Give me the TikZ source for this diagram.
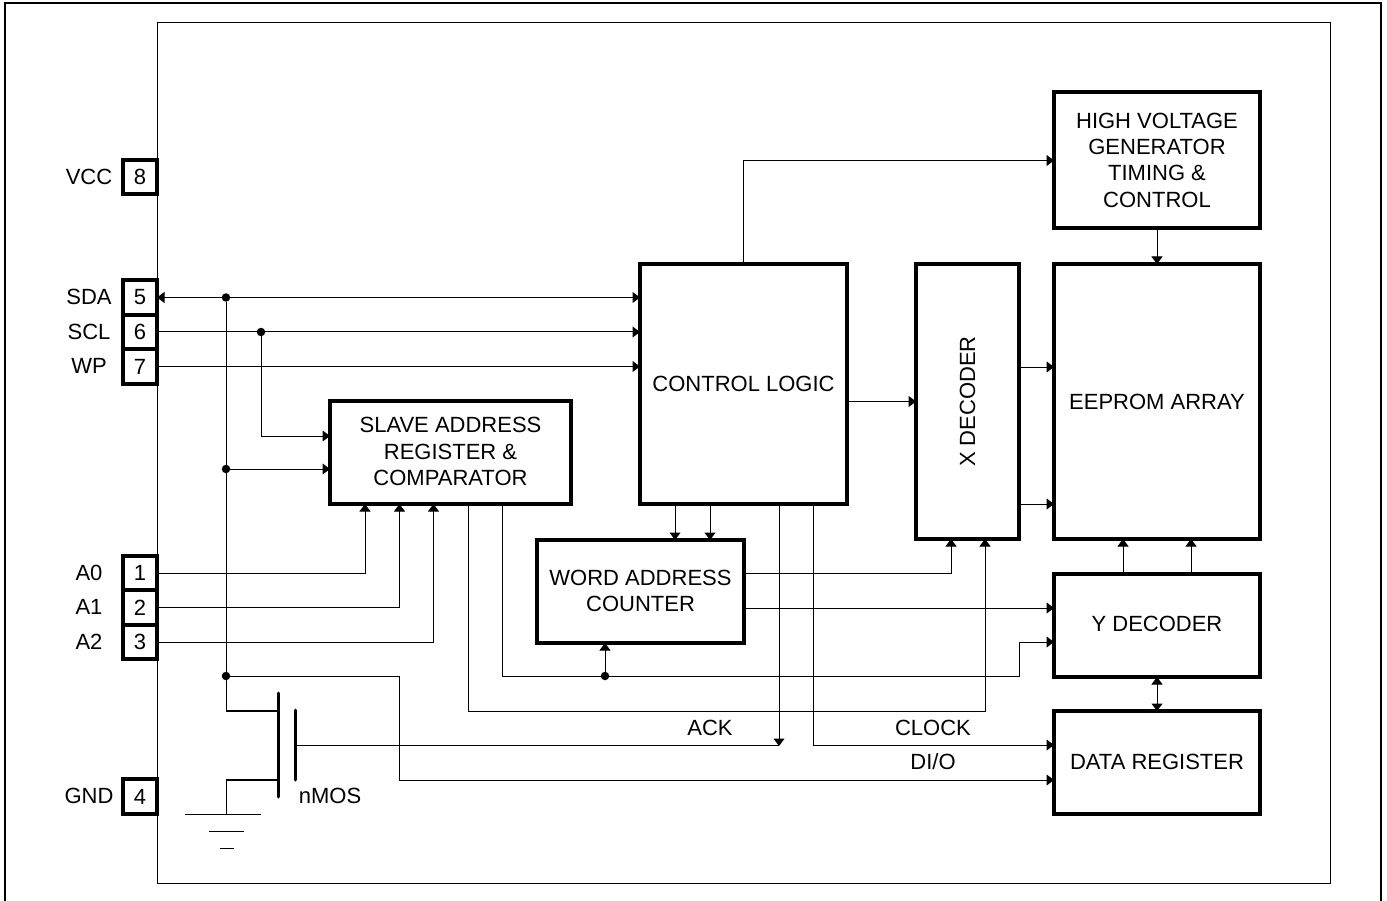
\documentclass[tikz,border=0pt]{standalone}
\usepackage{fontspec}
\setmainfont{Liberation Sans}
\usetikzlibrary{arrows.meta}
\tikzset{
  x=1pt,y=-1pt,
  box/.style={draw=black,fill=white,line width=3.8pt,align=center,inner sep=0pt,outer sep=0pt,
    font=\fontsize{22}{26.3}\selectfont},
  pinbox/.style={draw=black,fill=white,line width=3.8pt,inner sep=0pt,outer sep=0pt,
    minimum width=34pt,minimum height=34.5pt,font=\fontsize{22}{26}\selectfont},
  lab/.style={inner sep=0pt,font=\fontsize{22}{26}\selectfont},
  wire/.style={line width=1pt,draw=black},
  arr/.style={wire,-{Triangle[length=7.5pt,width=11pt]}},
  biarr/.style={wire,{Triangle[length=7.5pt,width=11pt]}-{Triangle[length=7.5pt,width=11pt]}},
  dot/.style={circle,fill=black,draw=none,inner sep=0pt,minimum size=8.5pt},
  heavy/.style={line width=2.6pt,draw=black},
  mos/.style={line width=3pt,draw=black,line cap=round},
}
\begin{document}
\begin{tikzpicture}
\useasboundingbox (0,0) rectangle (1387,901);
\fill[white] (0,0) rectangle (1387,901);
\draw[line width=2pt] (5,915) -- (5,3) -- (1381,3) -- (1381,915);
\draw[line width=1pt] (157,23) rectangle (1330,883);

% blocks
\node[box,minimum width=206pt,minimum height=136pt] (hv) at (1157,160) {HIGH VOLTAGE\\GENERATOR\\TIMING \&\\CONTROL};
\node[box,minimum width=207pt,minimum height=240pt] (ctrl) at (743.5,384) {CONTROL LOGIC};
\node[box,minimum width=103pt,minimum height=275pt] (xdec) at (967.5,401.5) {\rotatebox{90}{X DECODER}};
\node[box,minimum width=206pt,minimum height=275pt] (eeprom) at (1157,401.5) {EEPROM ARRAY};
\node[box,text depth=2pt,minimum width=241pt,minimum height=103pt] (slave) at (450.5,452.5) {SLAVE ADDRESS\\REGISTER \&\\COMPARATOR};
\node[box,text depth=2pt,minimum width=207pt,minimum height=103pt] (word) at (640.5,591.5) {WORD ADDRESS\\COUNTER};
\node[box,text depth=4pt,minimum width=206pt,minimum height=103pt] (ydec) at (1157,625.5) {Y DECODER};
\node[box,text depth=2pt,minimum width=206pt,minimum height=103pt] (data) at (1157,762.5) {DATA REGISTER};

% pins
\node[pinbox] (p8) at (140,177) {8};
\node[pinbox] (p5) at (140,297.5) {5};
\node[pinbox] (p6) at (140,332) {6};
\node[pinbox] (p7) at (140,366.5) {7};
\node[pinbox] (p1) at (140,573) {1};
\node[pinbox] (p2) at (140,607.5) {2};
\node[pinbox] (p3) at (140,642) {3};
\node[pinbox] (p4) at (140,796.5) {4};
\node[lab] (lvcc) at (89,177) {VCC};
\node[lab] (lsda) at (89,297) {SDA};
\node[lab] (lscl) at (89,332) {SCL};
\node[lab] (lwp) at (89,366) {WP};
\node[lab] (la0) at (89,573) {A0};
\node[lab] (la1) at (89,607) {A1};
\node[lab] (la2) at (89,642) {A2};
\node[lab] (lgnd) at (89,796) {GND};

% junctions
\node[dot] (j1) at (226,297.5) {};
\node[dot] (j2) at (261,332) {};
\node[dot] (j3) at (226,469) {};
\node[dot] (j4) at (226,676) {};
\node[dot] (j5) at (605,676) {};
\coordinate (drain) at (226,711);
\coordinate (source) at (226,780);
\coordinate (gnda) at (226,814);
\coordinate (bodyt) at (278,693);
\coordinate (bodyb) at (278,797);
\coordinate (gatet) at (295,710);
\coordinate (gateb) at (295,780);
\coordinate (gatem) at (295,745);
\coordinate (ackend) at (779,746);

% bus wires
\draw[biarr] (p5.east) -- (ctrl.west |- p5.east);
\draw[arr] (p6.east) -- (ctrl.west |- p6.east);
\draw[arr] (p7.east) -- (ctrl.west |- p7.east);
\draw[wire] (j1) -- (drain);
\draw[arr] (j2) |- ([yshift=16.5pt]slave.west);
\draw[arr] (j3) -- (slave.west |- j3);
\draw[arr] (p1.east) -| ([xshift=-85.5pt]slave.south);
\draw[arr] (p2.east) -| ([xshift=-51pt]slave.south);
\draw[arr] (p3.east) -| ([xshift=-17pt]slave.south);

% control logic
\draw[arr] (ctrl.north) |- ([yshift=-0.5pt]hv.west);
\draw[arr] (ctrl.east |- xdec.west) -- (xdec.west);
\draw[arr] ([xshift=-68.5pt]ctrl.south) -- ([xshift=34.5pt]word.north);
\draw[arr] ([xshift=-33.5pt]ctrl.south) -- ([xshift=69.5pt]word.north);
\draw[arr] ([xshift=35.5pt]ctrl.south) -- (ackend);
\draw[arr] ([xshift=69.5pt]ctrl.south) |- ([yshift=17.5pt]data.west);
\node[lab] (lack) at (710,728) {ACK};
\node[lab] (lclk) at (933,728) {CLOCK};
\node[lab] (ldio) at (933,762) {DI/O};

% x decoder, eeprom
\draw[arr] ([yshift=34.5pt]xdec.east) -- ([yshift=34.5pt]eeprom.west);
\draw[arr] ([yshift=-102.5pt]xdec.east) -- ([yshift=-102.5pt]eeprom.west);
\draw[arr] (hv.south) -- (eeprom.north);
\draw[arr] ([xshift=-34pt]ydec.north) -- ([xshift=-34pt]eeprom.south);
\draw[arr] ([xshift=34pt]ydec.north) -- ([xshift=34pt]eeprom.south);
\draw[biarr] (ydec.south) -- (data.north);

% word counter
\draw[arr] ([yshift=18.5pt]word.east) -| ([xshift=-16.5pt]xdec.south);
\draw[arr] ([yshift=-16.5pt]word.east) -- ([yshift=-16.5pt]word.east -| ydec.west);

% slave outputs
\draw[arr] ([xshift=17.5pt]slave.south) |- (985,711) -- ([xshift=17.5pt]xdec.south);
\draw[arr] ([xshift=51.5pt]slave.south) |- (1019,676) |- ([yshift=-16.5pt]ydec.west);
\draw[arr] (j5) -- (word.south -| j5);

% DI/O line
\draw[wire] (j4) -- (399,676) -- (399,780);
\draw[arr] (399,780) -- ([yshift=-17.5pt]data.west);

% nMOS
\draw[heavy] (drain) -- (bodyt |- drain);
\draw[heavy] (source) -- (bodyb |- source);
\draw[mos] (bodyt) -- (bodyb);
\draw[mos] (gatet) -- (gateb);
\draw[wire] (gatem) -- (ackend |- gatem);
\draw[wire] (source) -- (gnda);
\node[lab] (lnmos) at (330,796) {nMOS};
\draw[wire] (185,814) -- (261,814);
\draw[wire] (209,831) -- (244,831);
\draw[wire] (219.5,848) -- (233.5,848);
\end{tikzpicture}
\end{document}
